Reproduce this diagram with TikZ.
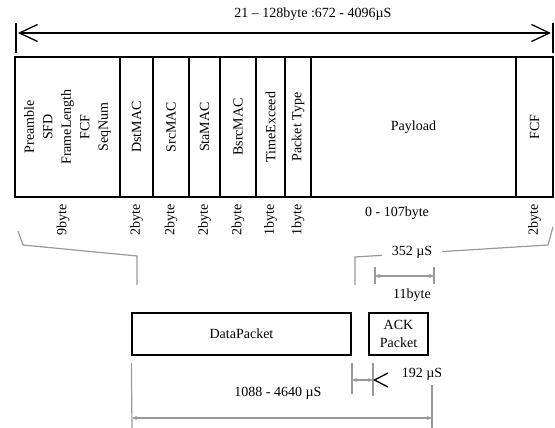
\documentclass[tikz,border=0pt]{standalone}
\usepackage{fontspec}
\setmainfont{Liberation Serif}
\usetikzlibrary{arrows.meta,positioning,calc}

\begin{document}
\begin{tikzpicture}[x=1pt,y=-1pt,
    font=\fontsize{14}{18.5}\selectfont,
    field/.style={draw, line width=1.3pt, rotate=90, minimum width=140pt, inner sep=0pt, align=center},
    pkt/.style={draw, line width=1.3pt, inner sep=0pt, align=center},
    guide/.style={draw=gray!80, line width=1.2pt},
    dimarrow/.style={guide, {Stealth[length=5pt,width=4pt]}-{Stealth[length=5pt,width=4pt]}},
    bigtip/.style={line width=1.3pt, {Straight Barb[length=18pt,width=17pt]}-{Straight Barb[length=18pt,width=17pt]}},
    sizelbl/.style={rotate=90, inner sep=0pt}]
  \useasboundingbox (0,0) rectangle (555,428);

  % overall length
  \node (total) at (313,14) {21 – 128byte :672 - 4096µS};
  \coordinate (lend) at (16,33);
  \coordinate (rend) at (553,33);
  \draw[line width=1.3pt] (16,23) -- (16,53);
  \draw[line width=1.3pt] (553,23) -- (553,53);
  \draw[bigtip] ([xshift=2pt]lend) -- ([xshift=-2pt]rend);

  % frame fields
  \foreach \xl/\xr/\nm/\txt in {15/120/pre/{Preamble\\SFD\\FrameLength\\FCF\\SeqNum},
      120/153/dst/DstMAC, 153/189/src/SrcMAC, 189/220/sta/StaMAC,
      220/256/bsrc/BsrcMAC, 256/285/texc/TimeExceed, 285/311/ptype/Packet Type,
      516/553/fcf/FCF}{
    \pgfmathsetmacro\w{\xr-\xl}
    \pgfmathsetmacro\xc{(\xl+\xr)/2}
    \node[field, minimum height=\w pt] (\nm) at (\xc,127) {\txt};
  }
  \node[pkt, minimum width=205pt, minimum height=140pt] (payload) at (413.5,127) {Payload};

  % field sizes
  \coordinate (lvl) at (0,220);
  \node[sizelbl] at (63,220) {9byte};
  \foreach \nm/\sz in {dst/2byte, src/2byte, sta/2byte, bsrc/2byte, texc/1byte, ptype/1byte, fcf/2byte}
    \node[sizelbl] at (\nm |- lvl) {\sz};
  \node at (397,213) {0 - 107byte};

  % packets
  \node[pkt, minimum width=219pt, minimum height=42pt] (data) at (241.5,334) {DataPacket};
  \node[pkt, minimum width=59pt, minimum height=42pt] (ack) at (398.5,334) {ACK\\Packet};

  % guide lines from frame to packets
  \coordinate (gl1) at (18,231);
  \coordinate (gl2) at (23,245);
  \coordinate (gl3) at (137,256);
  \coordinate (gl4) at (137,285);
  \draw[guide] (gl1) -- (gl2) -- (gl3) -- (gl4);
  \coordinate (gr1) at (553,227);
  \coordinate (gr2) at (548,245);
  \coordinate (gr3) at (355,257);
  \coordinate (gr4) at (355,285);
  \draw[guide] (gr1) -- (gr2) -- (gr3) -- (gr4);
  \node[fill=white, inner xsep=10pt, inner ysep=1pt] (ackt) at (412,252) {352 µS};

  % ack length
  \coordinate (ab1) at (375,276);
  \coordinate (ab2) at (434,276);
  \draw[guide] (375,267) -- (375,284);
  \draw[guide] (434,267) -- (434,284);
  \draw[dimarrow] (ab1) -- (ab2);
  \node (ackb) at (412,295) {11byte};

  % timing below packets
  \draw[guide] (data.south west |- 0,363) -- (132,428);
  \draw[guide] (352,363) -- (352,394);
  \draw[guide] (373,363) -- (373,396);
  \draw[guide] (432,385) -- (432,428);
  \coordinate (ifs1) at (352,380);
  \coordinate (ifs2) at (373,380);
  \draw[dimarrow] (ifs1) -- (ifs2);
  \draw[line width=1.3pt] (388,373) -- (374.5,380) -- (388,387);
  \node (ifst) at (422,374) {192 µS};
  \node (datat) at (278,393) {1088 - 4640 µS};
  \coordinate (tot1) at (132,418);
  \coordinate (tot2) at (432,418);
  \draw[dimarrow] (tot1) -- (tot2);
\end{tikzpicture}
\end{document}
